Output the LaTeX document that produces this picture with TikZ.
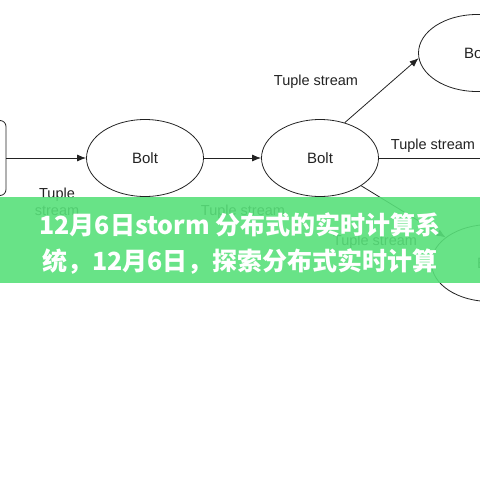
\documentclass[tikz,border=0pt]{standalone}
\usepackage{fontspec}
\setmainfont{Liberation Sans}
\newfontfamily\cjk{Noto Sans CJK SC}
\usetikzlibrary{shapes.geometric,arrows.meta}
\definecolor{bannergreen}{RGB}{88,224,122}
\definecolor{inkgray}{RGB}{34,34,34}
\tikzset{
    bolt/.style = {
        draw=inkgray,
        shape=ellipse,
        minimum width=117pt,
        minimum height=77pt,
        line width=0.8pt,
        text=inkgray,
        font=\fontsize{15}{15}\selectfont
    },
    spout/.style = {
        draw=inkgray,
        shape=rectangle,
        rounded corners=6pt,
        minimum width=70pt,
        minimum height=75pt,
        line width=0.8pt
    },
    stream/.style = {
        text=inkgray,
        align=center,
        font=\fontsize{14.5}{17}\selectfont
    },
    link/.style = {
        draw=inkgray,
        line width=0.8pt
    },
    >={Latex[length=9pt,width=7pt]},
}

\begin{document}
\begin{tikzpicture}[x=1pt, y=-1pt]
                \useasboundingbox (0,0) rectangle (480,480);
                \clip (0,0) rectangle (480,480);
                \node[spout] (spout) at (-29,158) {};
                \node[bolt] (b1) at (145,158) {Bolt};
                \node[bolt] (b2) at (320,158) {Bolt};
                \node[bolt] (b3) at (477,53) {Bolt};
                \node[bolt] (b4) at (490,263) {Bolt};
                \coordinate (outr) at (520,158);

                \path[link, ->] (spout) -- (b1);
                \path[link, ->] (b1) -- (b2);
                \path[link, ->] (b2.55) -- (b3.185);
                \path[link, ->] (b2) -- (outr);
                \path[link, ->] (b2.326) -- (b4.150);

                \node[stream] (t1) at (57,202) {Tuple\\stream};
                \node[stream] (t2) at (243,212) {Tuple stream};
                \node[stream] (t3) at (316,82) {Tuple stream};
                \node[stream] (t4) at (433,146) {Tuple stream};
                \node[stream] (t5) at (375,242) {Tuple stream};

                % title banner
                \fill[bannergreen, fill opacity=0.9] (0,197) rectangle (480,283);
                \node[text=white, align=center, font=\cjk\bfseries\fontsize{25}{36}\selectfont]
                (title) at (240,244) {12月6日storm 分布式的实时计算系\\统，12月6日，探索分布式实时计算};
            \end{tikzpicture}
\end{document}
